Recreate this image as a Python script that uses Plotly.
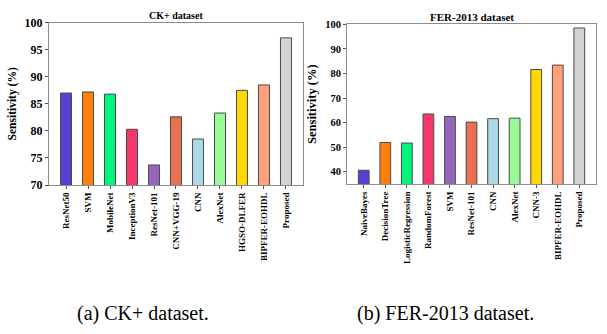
import plotly.graph_objects as go

# CK+ dataset
ck_models = ["ResNet50", "SVM", "MobileNet", "InceptionV3", "ResNet-101", "CNN+VGG-19",
             "CNN", "AlexNet", "HGSO-DLFER", "BIPFER-EOHDL", "Proposed"]
ck_sens = [87.0, 87.2, 86.8, 80.3, 73.7, 82.6, 78.5, 83.3, 87.5, 88.5, 97.2]

# FER-2013 dataset
fer_models = ["NaiveBayes", "DecisionTree", "LogisticRegression", "RandomForest", "SVM",
              "ResNet-101", "CNN", "AlexNet", "CNN-3", "BIPFER-EOHDL", "Proposed"]
fer_sens = [40.6, 51.9, 51.7, 63.5, 62.5, 60.2, 61.6, 61.8, 81.6, 83.4, 98.5]

bar_colors = ["#5a3fd5", "#ff7f0e", "#00f57a", "#f4376c", "#9467bd", "#e8704f",
              "#add8e6", "#98fb98", "#ffd700", "#ffa07a", "#d3d3d3"]

serif = "Times New Roman, Liberation Serif, serif"

fig = go.Figure()
fig.add_trace(go.Bar(x=ck_models, y=ck_sens, width=0.5, xaxis="x", yaxis="y",
                     marker=dict(color=bar_colors, line=dict(color="#4a4a4a", width=1))))
fig.add_trace(go.Bar(x=fer_models, y=fer_sens, width=0.5, xaxis="x2", yaxis="y2",
                     marker=dict(color=bar_colors, line=dict(color="#4a4a4a", width=1))))

axis_common = dict(showline=True, mirror=True, linecolor="#8c8c8c", linewidth=1,
                   showgrid=False, zeroline=False, ticks="outside", ticklen=3,
                   tickcolor="#555", automargin=False)


def label(text, x, y, size):
    return dict(text=text, x=x / 607, y=1 - y / 334, xref="paper", yref="paper",
                xanchor="center", yanchor="middle", showarrow=False,
                font=dict(size=size, family=serif))


fig.update_layout(
    width=607, height=334,
    margin=dict(l=0, r=0, t=0, b=0),
    paper_bgcolor="white", plot_bgcolor="white",
    showlegend=False,
    font=dict(family=serif, color="black"),
    xaxis=dict(domain=[0.0807, 0.4992], anchor="y", range=[-0.775, 10.775],
               tickangle=-90, tickfont=dict(size=9, family=serif, weight="bold"),
               **axis_common),
    yaxis=dict(domain=[0.4461, 0.932], anchor="x", range=[70, 100], dtick=5,
               tickfont=dict(size=12, family=serif, weight="bold"),
               title=dict(text="Sensitivity (%)", standoff=5,
                          font=dict(size=11.5, family=serif, weight="bold")),
               **axis_common),
    xaxis2=dict(domain=[0.5717, 0.9819], anchor="y2", range=[-0.775, 10.775],
                tickangle=-90, tickfont=dict(size=9, family=serif, weight="bold"),
                **axis_common),
    yaxis2=dict(domain=[0.4491, 0.9272], anchor="x2", range=[35, 100],
                tickvals=[40, 50, 60, 70, 80, 90, 100],
                tickfont=dict(size=10.5, family=serif, weight="bold"),
                title=dict(text="Sensitivity (%)", standoff=5,
                           font=dict(size=12.5, family=serif, weight="bold")),
                **axis_common),
    annotations=[
        label("<b>CK+ dataset</b>", 176, 15.5, 10),
        label("<b>FER-2013 dataset</b>", 472, 17, 11),
        label("(a) CK+ dataset.", 143, 313, 20),
        label("(b) FER-2013 dataset.", 445, 313, 20),
    ],
)

fig.write_html("out.html", config={"displayModeBar": False},
               post_script="document.body.style.margin='0';")
